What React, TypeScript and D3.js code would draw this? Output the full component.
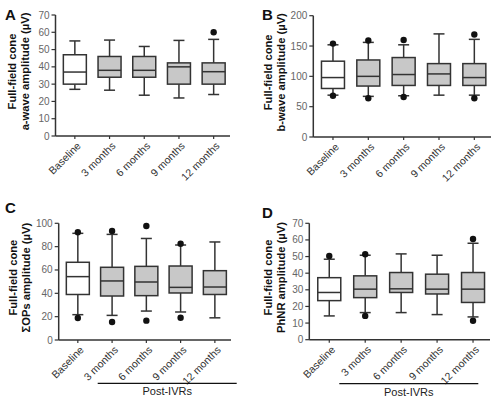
import React from "react";
import * as d3 from "d3";

const categories = ["Baseline", "3 months", "6 months", "9 months", "12 months"];
const categoriesD = ["Baseline", "3 moths", "6 months", "9 months", "12 months"];

// Panel A: a-wave amplitude
const aWhiskerLow = [27, 26.5, 23.6, 22, 24];
const aQ1 = [30, 34, 34, 30, 30];
const aMedian = [37, 38, 38, 40, 37.2];
const aQ3 = [47, 46, 46, 42.3, 42.3];
const aWhiskerHigh = [55, 55.5, 51.8, 55.3, 55.9];
const aOutliers = [[], [], [], [], [60]];
const aTicks = [0, 10, 20, 30, 40, 50, 60, 70];

// Panel B: b-wave amplitude
const bWhiskerLow = [69, 67, 68, 69, 69];
const bQ1 = [80, 84, 85, 85, 85];
const bMedian = [98, 100, 103, 104, 98];
const bQ3 = [125, 127, 131, 121, 121];
const bWhiskerHigh = [152, 156, 152, 170, 161];
const bOutliers = [[154, 68], [159, 64], [160, 66], [], [169, 64]];
const bTicks = [0, 50, 100, 150, 200];

// Panel C: ΣOPs amplitude
const cWhiskerLow = [21.7, 21.1, 24.8, 24, 19];
const cQ1 = [39, 37.7, 38, 40.3, 39];
const cMedian = [54.3, 50.6, 49.7, 45.1, 45.4];
const cQ3 = [66.6, 62.3, 63.1, 63.4, 59.4];
const cWhiskerHigh = [91.4, 90.5, 87, 81.4, 84];
const cOutliers = [[92.3, 18.9], [93.4, 15.4], [97.7, 16.6], [82.5, 19.1], []];
const cTicks = [0, 20, 40, 60, 80, 100];

// Panel D: PhNR amplitude
const dWhiskerLow = [14.3, 16.3, 16.3, 15.1, 13.7];
const dQ1 = [23.5, 25.3, 28.4, 27.5, 22.4];
const dMedian = [28.4, 30.4, 30.6, 30.4, 30.4];
const dQ3 = [37.3, 38.4, 40.4, 39.4, 40.4];
const dWhiskerHigh = [48.4, 50.8, 51.6, 50.8, 58];
const dOutliers = [[50.4], [51.4, 14.3], [], [], [60.6, 11.4]];
const dTicks = [0, 10, 20, 30, 40, 50, 60, 70];

const FONT = "'Liberation Sans', Arial, Helvetica, sans-serif";
const STROKE = "#333";

type PanelProps = {
  letter: string;
  letterX: number;
  letterY: number;
  cats: string[];
  lo: number[];
  q1: number[];
  med: number[];
  q3: number[];
  hi: number[];
  outliers: number[][];
  ticks: number[];
  left: number;
  right: number;
  top: number;
  bottom: number;
  title2: string;
  titleX: number;
  post?: { x1: number; x2: number; y: number };
};

function Panel(p: PanelProps) {
  const max = p.ticks[p.ticks.length - 1];
  const y = d3.scaleLinear().domain([0, max]).range([p.bottom, p.top]);
  const x = d3
    .scaleBand<string>()
    .domain(p.cats)
    .range([p.left + 2, p.right + 1])
    .paddingInner(0)
    .paddingOuter(0);
  const bw = 23;
  const cap = 11;
  const titleCY = (p.top + p.bottom) / 2 - 4;
  return (
    <g fontFamily={FONT}>
      <text x={p.letterX} y={p.letterY} fontSize={15} fontWeight="bold" fill="#111">
        {p.letter}
      </text>
      <g transform={`translate(${p.titleX},${titleCY}) rotate(-90)`}>
        <text x={0} y={0} textAnchor="middle" fontSize={11.2} fontWeight="bold" fill="#111">
          Full-field cone
        </text>
        <text x={0} y={13} textAnchor="middle" fontSize={11.2} fontWeight="bold" fill="#111">
          {p.title2}
        </text>
      </g>
      {/* y axis */}
      <line x1={p.left} x2={p.left} y1={p.top} y2={p.bottom} stroke={STROKE} strokeWidth={1.5} />
      {p.ticks.map((t) => (
        <g key={t}>
          <line x1={p.left - 4} x2={p.left} y1={y(t)} y2={y(t)} stroke={STROKE} strokeWidth={1.2} />
          <text x={p.left - 6} y={y(t)} dy="0.35em" textAnchor="end" fontSize={10} fill="#666">
            {t}
          </text>
        </g>
      ))}
      {/* x axis */}
      <line x1={p.left} x2={p.right} y1={p.bottom} y2={p.bottom} stroke={STROKE} strokeWidth={1.5} />
      {p.cats.map((c, i) => {
        const cx = (x(c) as number) + x.bandwidth() / 2;
        const fill = i === 0 ? "#ffffff" : "#c8c8c8";
        return (
          <g key={c}>
            <line x1={cx} x2={cx} y1={p.bottom} y2={p.bottom + 3} stroke={STROKE} strokeWidth={1.2} />
            <text
              transform={`translate(${cx + 4},${p.bottom + 8}) rotate(-45)`}
              textAnchor="end"
              dy="0.35em"
              fontSize={10.5}
              fill="#333"
            >
              {c}
            </text>
            {/* whiskers */}
            <line x1={cx} x2={cx} y1={y(p.hi[i])} y2={y(p.q3[i])} stroke={STROKE} strokeWidth={1.5} />
            <line x1={cx} x2={cx} y1={y(p.q1[i])} y2={y(p.lo[i])} stroke={STROKE} strokeWidth={1.5} />
            <line x1={cx - cap / 2} x2={cx + cap / 2} y1={y(p.hi[i])} y2={y(p.hi[i])} stroke={STROKE} strokeWidth={1.5} />
            <line x1={cx - cap / 2} x2={cx + cap / 2} y1={y(p.lo[i])} y2={y(p.lo[i])} stroke={STROKE} strokeWidth={1.5} />
            <rect
              x={cx - bw / 2}
              y={y(p.q3[i])}
              width={bw}
              height={y(p.q1[i]) - y(p.q3[i])}
              fill={fill}
              stroke={STROKE}
              strokeWidth={1.5}
            />
            <line x1={cx - bw / 2} x2={cx + bw / 2} y1={y(p.med[i])} y2={y(p.med[i])} stroke={STROKE} strokeWidth={1.5} />
            {p.outliers[i].map((o, j) => (
              <circle key={j} cx={cx} cy={y(o)} r={3.2} fill="#111" />
            ))}
          </g>
        );
      })}
      {p.post && (
        <g>
          <line x1={p.post.x1} x2={p.post.x2} y1={p.post.y} y2={p.post.y} stroke="#111" strokeWidth={1.2} />
          <text x={(p.post.x1 + p.post.x2) / 2} y={p.post.y + 12} textAnchor="middle" fontSize={11} fill="#222">
            Post-IVRs
          </text>
        </g>
      )}
    </g>
  );
}

export default function App() {
  return (
    <svg
      width={500}
      height={402}
      style={{ position: "absolute", left: 0, top: 0, background: "#fff" }}
    >
      <rect width={500} height={402} fill="#fff" />
      <Panel
        letter="A" letterX={5} letterY={20}
        cats={categories}
        lo={aWhiskerLow} q1={aQ1} med={aMedian} q3={aQ3} hi={aWhiskerHigh} outliers={aOutliers}
        ticks={aTicks}
        left={55.5} right={230} top={15} bottom={136}
        title2="a-wave amplitude (µV)" titleX={16}
      />
      <Panel
        letter="B" letterX={262} letterY={20}
        cats={categories}
        lo={bWhiskerLow} q1={bQ1} med={bMedian} q3={bQ3} hi={bWhiskerHigh} outliers={bOutliers}
        ticks={bTicks}
        left={313.3} right={491} top={15.7} bottom={137}
        title2="b-wave amplitude (µV)" titleX={272}
      />
      <Panel
        letter="C" letterX={5} letterY={213}
        cats={categories}
        lo={cWhiskerLow} q1={cQ1} med={cMedian} q3={cQ3} hi={cWhiskerHigh} outliers={cOutliers}
        ticks={cTicks}
        left={58.7} right={231} top={223.3} bottom={340}
        title2="ΣOPs amplitude (µV)" titleX={17}
        post={{ x1: 97.7, x2: 236.7, y: 383.3 }}
      />
      <Panel
        letter="D" letterX={262} letterY={218}
        cats={categoriesD}
        lo={dWhiskerLow} q1={dQ1} med={dMedian} q3={dQ3} hi={dWhiskerHigh} outliers={dOutliers}
        ticks={dTicks}
        left={309.3} right={490} top={223.3} bottom={339.7}
        title2="PhNR amplitude (µV)" titleX={272}
        post={{ x1: 339.3, x2: 478.3, y: 383.7 }}
      />
    </svg>
  );
}
